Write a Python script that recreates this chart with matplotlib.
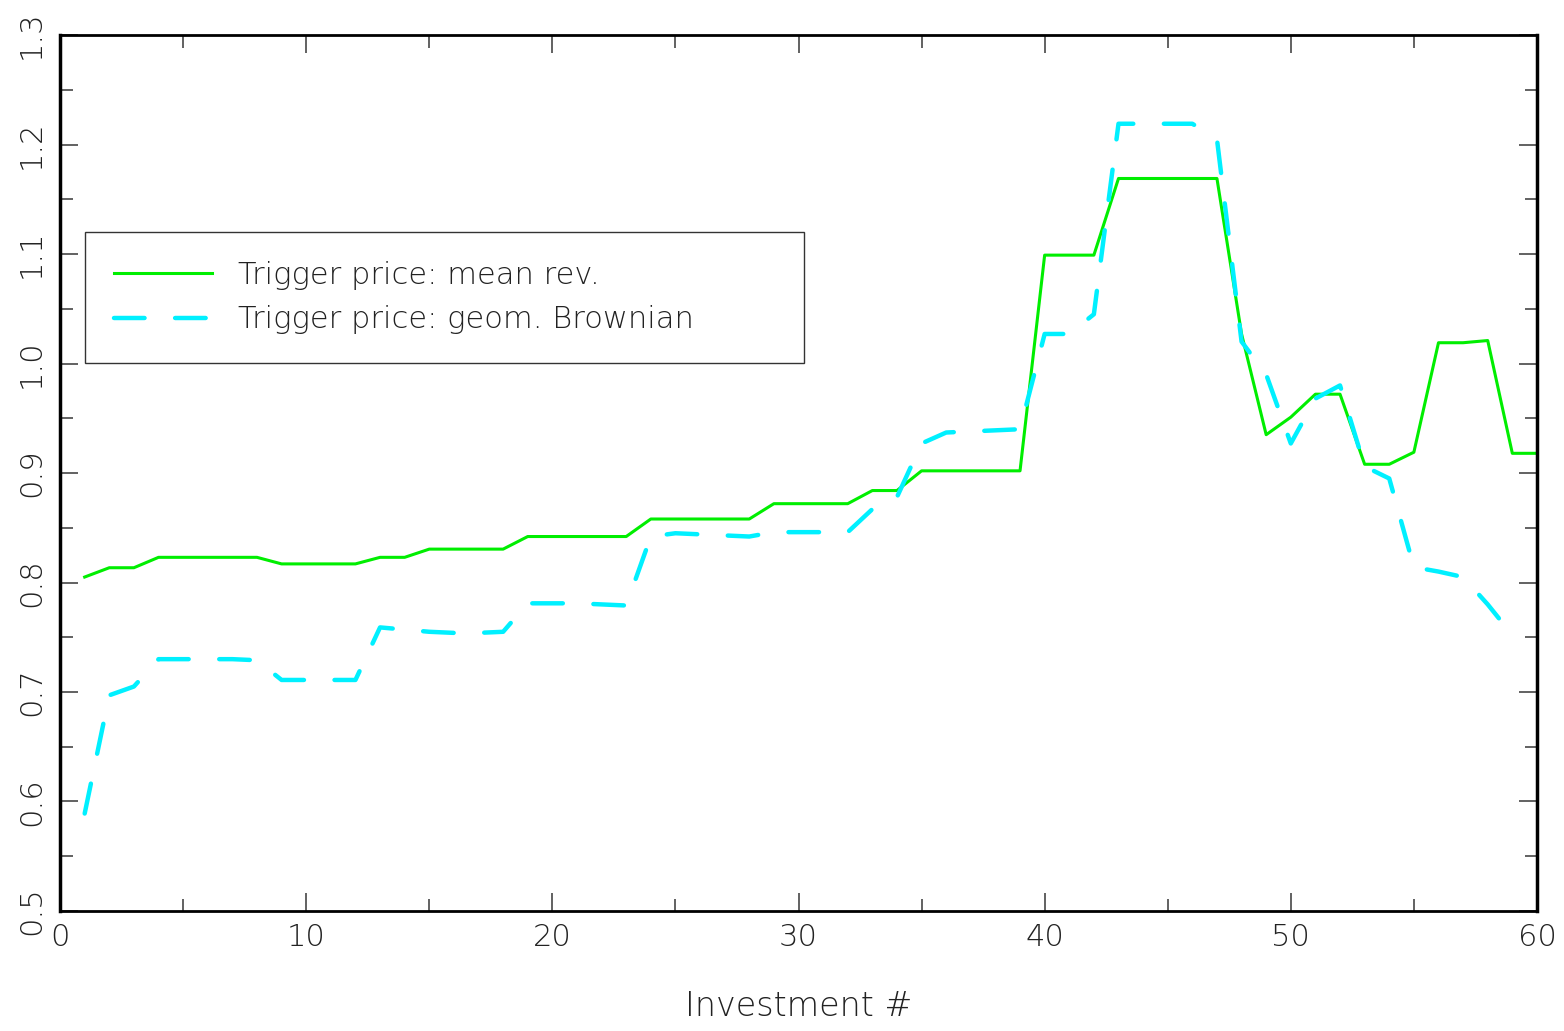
import matplotlib
matplotlib.use("Agg")
import matplotlib.pyplot as plt
from matplotlib.ticker import MultipleLocator
import numpy as np

# data ------------------------------------------------------------------------
inv_mean = np.arange(1, 61)
trig_mean = [0.805, 0.8135, 0.8135, 0.823, 0.823, 0.823, 0.823, 0.823, 0.817, 0.817,
             0.817, 0.817, 0.823, 0.823, 0.8305, 0.8305, 0.8305, 0.8305, 0.842, 0.842,
             0.842, 0.842, 0.842, 0.858, 0.858, 0.858, 0.858, 0.858, 0.872, 0.872,
             0.872, 0.872, 0.884, 0.884, 0.902, 0.902, 0.902, 0.902, 0.902, 1.099,
             1.099, 1.099, 1.169, 1.169, 1.169, 1.169, 1.169, 1.027, 0.935, 0.951,
             0.972, 0.972, 0.908, 0.908, 0.919, 1.019, 1.019, 1.021, 0.918, 0.918]

inv_gbm = np.arange(1, 60)
trig_gbm = [0.589, 0.697, 0.705, 0.730, 0.730, 0.730, 0.730, 0.729, 0.711, 0.711,
            0.711, 0.711, 0.759, 0.757, 0.755, 0.754, 0.754, 0.755, 0.781, 0.781,
            0.781, 0.780, 0.779, 0.842, 0.845, 0.844, 0.843, 0.842, 0.846, 0.846,
            0.846, 0.846, 0.867, 0.878, 0.927, 0.937, 0.938, 0.939, 0.940, 1.027,
            1.027, 1.045, 1.219, 1.219, 1.219, 1.219, 1.205, 1.020, 0.990, 0.927,
            0.968, 0.980, 0.906, 0.895, 0.814, 0.810, 0.805, 0.780, 0.752]

# style -----------------------------------------------------------------------
plt.rcParams['font.family'] = ['DejaVu Sans']
plt.rcParams['font.weight'] = 'ultralight'
plt.rcParams['axes.labelweight'] = 'ultralight'
plt.rcParams['lines.scale_dashes'] = False
txt_col = "#222222"

fig = plt.figure(figsize=(15.64, 10.31), dpi=100)
ax = fig.add_axes([0.0384, 0.1164, 0.9443, 0.8496])

ax.plot(inv_mean, trig_mean, color="#00ee00", lw=2.2,
        label="Trigger price: mean rev.")
ax.plot(inv_gbm, trig_gbm, color="#00f0ff", lw=3.2, dashes=(22, 22),
        dash_capstyle="round", label="Trigger price: geom. Brownian")

ax.set_xlim(0, 60)
ax.set_ylim(0.5, 1.3)
ax.xaxis.set_major_locator(MultipleLocator(10))
ax.xaxis.set_minor_locator(MultipleLocator(5))
ax.yaxis.set_major_locator(MultipleLocator(0.1))
ax.yaxis.set_minor_locator(MultipleLocator(0.05))
ax.yaxis.set_major_formatter(plt.FuncFormatter(lambda v, p: f"{v:.1f}"))

ax.tick_params(which="both", direction="in", top=True, right=True,
               color="#555555", labelcolor=txt_col, labelsize=22)
ax.tick_params(which="major", length=13, width=1.3)
ax.tick_params(which="minor", length=9, width=1.3)
ax.tick_params(axis="x", pad=9)
ax.tick_params(axis="y", pad=10)
for lab in ax.get_yticklabels():
    lab.set_rotation(90)
    lab.set_va("center")

for s in ["left", "right"]:
    ax.spines[s].set_linewidth(2.5)
for s in ["top", "bottom"]:
    ax.spines[s].set_linewidth(2.0)

ax.set_xlabel("Investment #", fontsize=24, fontweight="ultralight",
              color=txt_col, labelpad=27)

# legend box stretched to the width of the original
leg = ax.legend(loc="upper left", bbox_to_anchor=(0.0169, 0.6256, 0.4868, 0.1495),
                mode="expand", fontsize=22, fancybox=False, framealpha=1,
                edgecolor="#333333", handlelength=3.2, handletextpad=0.85,
                borderpad=0.95, labelspacing=0.5, borderaxespad=0)
leg.get_frame().set_linewidth(1.0)
for t in leg.get_texts():
    t.set_color(txt_col)

fig.savefig("out.png", dpi=100)
